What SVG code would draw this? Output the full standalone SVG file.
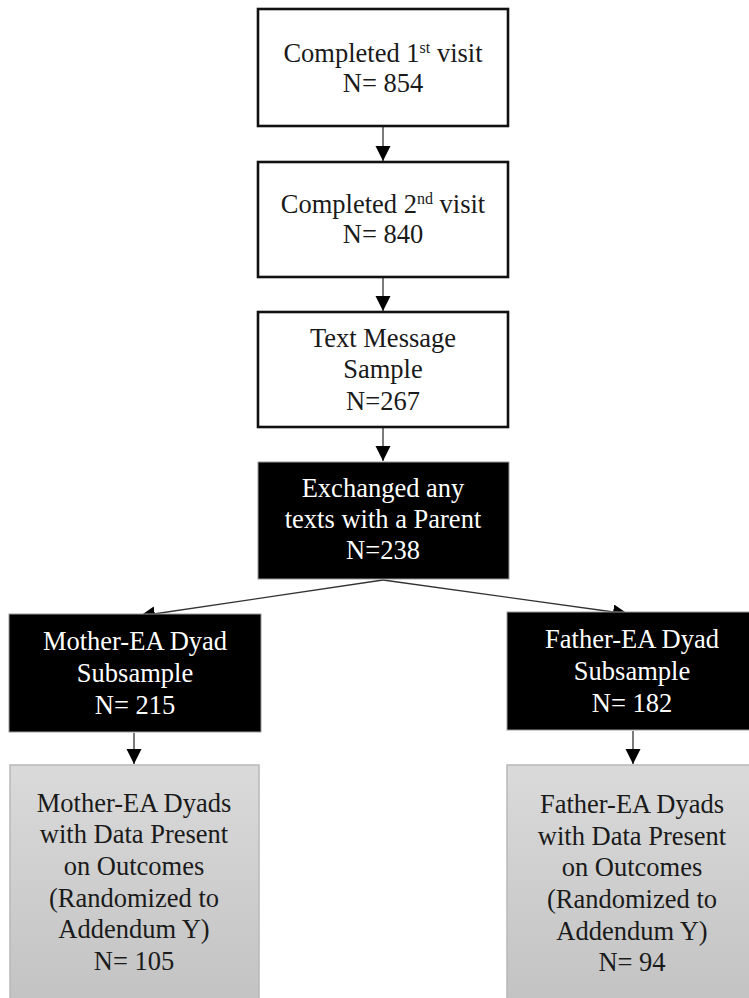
<svg xmlns="http://www.w3.org/2000/svg" width="749" height="998" viewBox="0 0 749 998">
<style>
text{font-family:"Liberation Serif","Times New Roman",serif;font-size:26.5px;text-anchor:middle}
.dk{fill:#1a1a1a}
.lt{fill:#ffffff}
.wbox{fill:#ffffff;stroke:#111;stroke-width:2.6}
.bbox{fill:#000;stroke:#999;stroke-width:1}
.gbox{fill:url(#gg);stroke:#b8b8b8;stroke-width:1.5}
.con{stroke:#333;stroke-width:1.3;fill:none;marker-end:url(#ah)}
</style>
<defs>
<linearGradient id="gg" x1="0" y1="0" x2="0" y2="1">
<stop offset="0" stop-color="#dadada"/>
<stop offset="1" stop-color="#c2c2c2"/>
</linearGradient>
<marker id="ah" markerUnits="userSpaceOnUse" markerWidth="16" markerHeight="16" refX="15" refY="7.5" orient="auto" viewBox="0 0 16 16">
<path d="M0,0 L15,7.5 L0,15 z" fill="#000"/>
</marker>
</defs>
<g id="connectors">
<line class="con" x1="383" y1="127" x2="383" y2="161"/>
<line class="con" x1="383" y1="278" x2="383" y2="311"/>
<line class="con" x1="383" y1="428" x2="383" y2="461"/>
<line class="con" x1="383" y1="580" x2="140" y2="616"/>
<line class="con" x1="383" y1="580" x2="628" y2="614"/>
<line class="con" x1="134" y1="733" x2="134" y2="764"/>
<line class="con" x1="633" y1="731" x2="633" y2="764"/>
</g>
<g id="n1">
<rect class="wbox" x="258" y="9" width="250" height="117"/>
<text class="dk" x="383" y="62">Completed 1<tspan dy="-9" font-size="16">st</tspan><tspan dy="9"> visit</tspan></text>
<text class="dk" x="383" y="92">N= 854</text>
</g>
<g id="n2">
<rect class="wbox" x="258" y="162" width="250" height="115"/>
<text class="dk" x="383" y="213">Completed 2<tspan dy="-9" font-size="16">nd</tspan><tspan dy="9"> visit</tspan></text>
<text class="dk" x="383" y="243">N= 840</text>
</g>
<g id="n3">
<rect class="wbox" x="258" y="312" width="250" height="115"/>
<text class="dk" x="383" y="347">Text Message</text>
<text class="dk" x="383" y="378">Sample</text>
<text class="dk" x="383" y="410">N=267</text>
</g>
<g id="n4">
<rect class="bbox" x="258" y="462" width="251" height="117"/>
<text class="lt" x="383" y="497">Exchanged any</text>
<text class="lt" x="383" y="528">texts with a Parent</text>
<text class="lt" x="383" y="559">N=238</text>
</g>
<g id="n5">
<rect class="bbox" x="9" y="614" width="252" height="118"/>
<text class="lt" x="135" y="650">Mother-EA Dyad</text>
<text class="lt" x="135" y="682">Subsample</text>
<text class="lt" x="135" y="714">N= 215</text>
</g>
<g id="n6">
<rect class="bbox" x="507" y="612" width="260" height="118"/>
<text class="lt" x="632" y="648">Father-EA Dyad</text>
<text class="lt" x="632" y="680">Subsample</text>
<text class="lt" x="632" y="712">N= 182</text>
</g>
<g id="n7">
<rect class="gbox" x="10" y="765" width="249" height="245"/>
<text class="dk" x="134" y="812">Mother-EA Dyads</text>
<text class="dk" x="134" y="843">with Data Present</text>
<text class="dk" x="134" y="875">on Outcomes</text>
<text class="dk" x="134" y="907">(Randomized to</text>
<text class="dk" x="134" y="938">Addendum Y)</text>
<text class="dk" x="134" y="970">N= 105</text>
</g>
<g id="n8">
<rect class="gbox" x="507" y="765" width="260" height="245"/>
<text class="dk" x="632" y="813">Father-EA Dyads</text>
<text class="dk" x="632" y="845">with Data Present</text>
<text class="dk" x="632" y="876">on Outcomes</text>
<text class="dk" x="632" y="908">(Randomized to</text>
<text class="dk" x="632" y="940">Addendum Y)</text>
<text class="dk" x="632" y="971">N= 94</text>
</g>
</svg>
